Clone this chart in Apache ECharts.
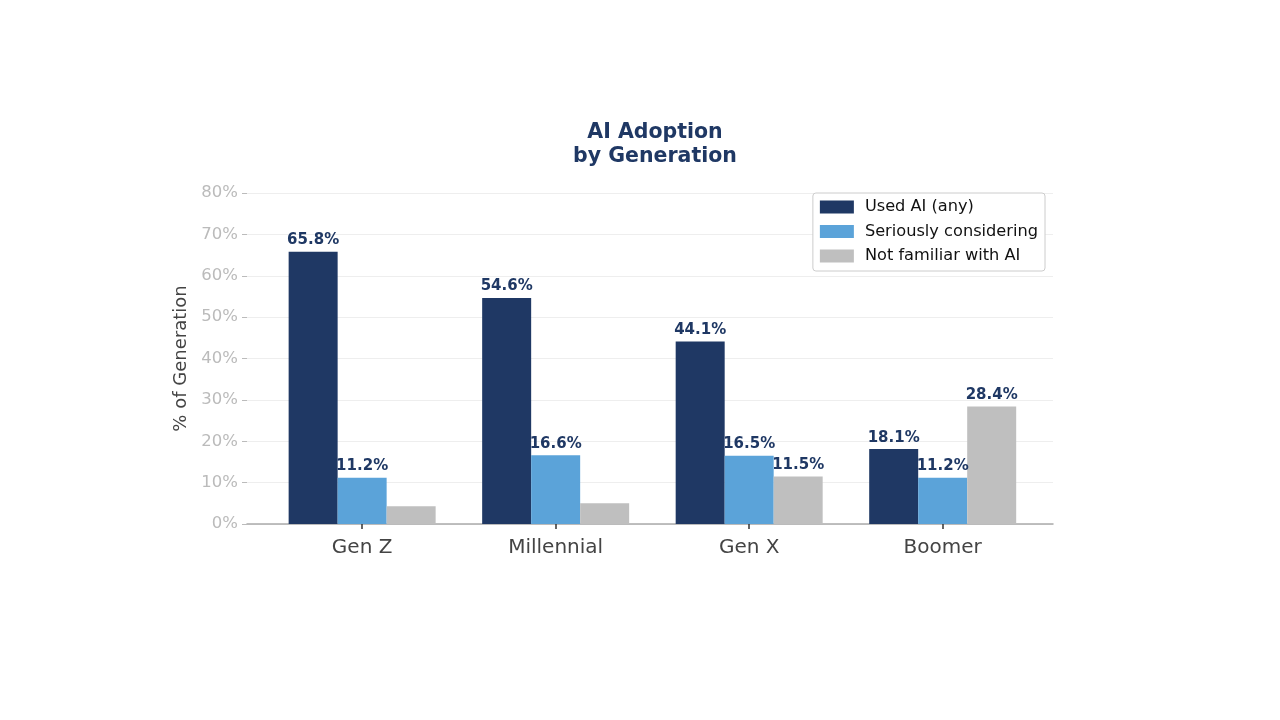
<!DOCTYPE html>
<html lang="en">
<head>
    <meta charset="UTF-8">
    <title>AI Adoption by Generation</title>
    <script src="https://cdn.jsdelivr.net/npm/echarts@6/dist/echarts.min.js"></script>
    <style>
        html, body { margin: 0; padding: 0; background: #fff; }
        #main { width: 1280px; height: 720px; }
    </style>
</head>
<body>
<div id="main"></div>
<script type="text/javascript">
    // data
    var generations = ['Gen Z', 'Millennial', 'Gen X', 'Boomer'];
    var usedAI = [65.8, 54.6, 44.1, 18.1];
    var considering = [11.2, 16.6, 16.5, 11.2];
    var notFamiliar = [4.3, 5.0, 11.5, 28.4];

    var navy = '#1f3864';
    var font = 'DejaVu Sans';

    function toPoints(arr) {
        return arr.map(function (v, i) { return [i, v]; });
    }

    // only values of 10% and above get a label, as in the picture
    var barLabel = {
        show: true,
        position: 'top',
        distance: 4,
        color: navy,
        fontFamily: font,
        fontWeight: 'bold',
        fontSize: 15,
        formatter: function (p) {
            var v = p.value[1];
            return v >= 10 ? v.toFixed(1) + '%' : '';
        }
    };

    function makeSeries(name, arr, color) {
        return {
            name: name,
            type: 'bar',
            barWidth: 49,
            barGap: '0%',
            itemStyle: { color: color },
            label: barLabel,
            data: toPoints(arr)
        };
    }

    var chart = echarts.init(document.getElementById('main'));
    var option = {
        animation: false,
        title: {
            text: 'AI Adoption\nby Generation',
            left: 650,
            top: 116,
            textAlign: 'center',
            textStyle: {
                color: navy,
                fontFamily: font,
                fontWeight: 'bold',
                fontSize: 20.5,
                lineHeight: 24
            }
        },
        legend: {
            right: 235,
            top: 193,
            orient: 'vertical',
            icon: 'rect',
            backgroundColor: '#fff',
            borderColor: '#cccccc',
            borderWidth: 1,
            borderRadius: 3,
            padding: [6, 7, 7, 7],
            itemWidth: 34,
            itemHeight: 13,
            itemGap: 8.5,
            textStyle: { color: '#111', fontFamily: font, fontSize: 16.2, padding: [0, 0, 0, 6] },
            data: ['Used AI (any)', 'Seriously considering', 'Not familiar with AI']
        },
        grid: {
            left: 247,
            right: 227,
            top: 193,
            bottom: 196
        },
        xAxis: {
            type: 'value',
            min: -0.595,
            max: 3.57,
            axisLine: { show: true, onZero: false, lineStyle: { color: '#aaaaaa', width: 1.5 } },
            axisTick: {
                show: true,
                customValues: [0, 1, 2, 3],
                length: 5,
                lineStyle: { color: '#333', width: 1.5 }
            },
            axisLabel: {
                customValues: [0, 1, 2, 3],
                color: '#444',
                fontFamily: font,
                fontSize: 20,
                margin: 14,
                formatter: function (v) { return generations[v]; }
            },
            splitLine: { show: false }
        },
        yAxis: {
            type: 'value',
            min: 0,
            max: 80,
            interval: 10,
            name: '% of Generation',
            nameLocation: 'middle',
            nameGap: 56,
            nameTextStyle: { color: '#444', fontFamily: font, fontSize: 18 },
            axisLine: { show: false, onZero: false },
            axisTick: { show: true, length: 5, lineStyle: { color: '#bbbbbb' } },
            axisLabel: {
                color: '#bbbbbb',
                fontFamily: font,
                fontSize: 16.5,
                margin: 9,
                formatter: '{value}%'
            },
            splitLine: { show: true, lineStyle: { color: '#eeeeee', width: 1 } }
        },
        series: [
            makeSeries('Used AI (any)', usedAI, navy),
            makeSeries('Seriously considering', considering, '#5ba3d9'),
            makeSeries('Not familiar with AI', notFamiliar, '#bfbfbf')
        ]
    };
    chart.setOption(option);
</script>
</body>
</html>
